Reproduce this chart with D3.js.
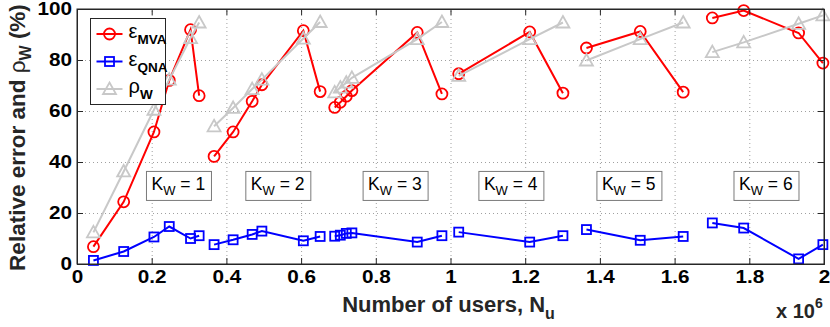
<!DOCTYPE html>
<html>
<head>
<meta charset="utf-8">
<script src="https://cdn.jsdelivr.net/npm/d3@7"></script>
<style>
  html, body { margin: 0; padding: 0; background: #fff; }
  svg { display: block; font-family: "Liberation Sans", Arial, Helvetica, sans-serif; }
</style>
</head>
<body>
<svg id="chart" width="830" height="327"></svg>
<script>
// ---- data (x in millions of users) ----
const groupIds   = [1, 2, 3, 4, 5, 6];
const usersM = [
  [0.044, 0.125, 0.206, 0.247, 0.304, 0.327],
  [0.367, 0.418, 0.469, 0.495, 0.606, 0.651],
  [0.690, 0.705, 0.721, 0.736, 0.911, 0.977],
  [1.022, 1.212, 1.301],
  [1.364, 1.508, 1.623],
  [1.701, 1.785, 1.932, 1.997]
];
const epsMVA = [
  [6.8, 24.4, 51.8, 72.0, 91.9, 66.0],
  [42.2, 51.8, 63.8, 70.3, 91.5, 67.6],
  [61.4, 63.4, 65.8, 68.0, 90.8, 66.7],
  [74.6, 91.0, 67.0],
  [84.7, 91.2, 67.4],
  [96.5, 99.4, 90.6, 78.8]
];
const epsQNA = [
  [1.4, 4.9, 10.6, 14.7, 10.0, 11.1],
  [7.6, 9.5, 11.6, 12.9, 9.1, 10.8],
  [10.9, 11.3, 12.0, 12.2, 8.6, 11.1],
  [12.5, 8.6, 11.1],
  [13.5, 9.3, 10.8],
  [16.1, 14.1, 2.0, 7.6]
];
const rhoW = [
  [12.4, 36.3, 60.5, 72.3, 88.6, 94.7],
  [54.0, 61.2, 68.6, 72.3, 88.4, 94.9],
  [67.3, 69.2, 71.1, 73.0, 88.2, 94.9],
  [73.8, 88.2, 94.7],
  [79.8, 88.2, 94.7],
  [83.1, 86.9, 94.2, 97.5]
];
const kwLabelX = [0.186, 0.452, 0.766, 1.076, 1.392, 1.759]; // left edge of each K_W box (x 10^6)
const kwLabelY = 36.3;                                       // top edge of boxes (%)
const xTicks = [0, 0.2, 0.4, 0.6, 0.8, 1, 1.2, 1.4, 1.6, 1.8, 2];
const yTicks = [0, 20, 40, 60, 80, 100];

// ---- layout ----
const W = 830, H = 327;
const m = { left: 77, top: 9, right: 6, bottom: 63 };
const iw = W - m.left - m.right, ih = H - m.top - m.bottom;

const svg = d3.select("#chart");
const g = svg.append("g").attr("transform", `translate(${m.left},${m.top})`);

const x = d3.scaleLinear().domain([0, 2]).range([0, iw]);
const y = d3.scaleLinear().domain([0, 100]).range([ih, 0]);

const tickFont = "bold 18px 'Liberation Sans', Arial, sans-serif";
const tickStretch = 1.15;

// grid
g.append("g").attr("transform", `translate(0,${ih})`)
  .call(d3.axisBottom(x).tickValues(xTicks.slice(1, -1)).tickSize(-ih).tickFormat(""))
  .call(a => a.select(".domain").remove())
  .call(a => a.selectAll("line").attr("stroke", "#a0a0a0").attr("stroke-dasharray", "1,3"));
g.append("g")
  .call(d3.axisLeft(y).tickValues(yTicks.slice(1, -1)).tickSize(-iw).tickFormat(""))
  .call(a => a.select(".domain").remove())
  .call(a => a.selectAll("line").attr("stroke", "#a0a0a0").attr("stroke-dasharray", "1,3"));

// K_W boxes
const kwBoxW = 65, kwBoxH = 29;
groupIds.forEach((k, i) => {
  const bx = x(kwLabelX[i]), by = y(kwLabelY);
  const kg = g.append("g").attr("transform", `translate(${bx},${by})`);
  kg.append("rect").attr("width", kwBoxW).attr("height", kwBoxH)
    .attr("fill", "#fff").attr("stroke", "#7a7a7a").attr("stroke-width", 1);
  const t = kg.append("text").attr("x", 5).attr("y", 19)
    .attr("font-size", 17.5).attr("fill", "#000");
  t.append("tspan").text("K");
  t.append("tspan").attr("dy", 5).attr("font-size", 13).text("W");
  t.append("tspan").attr("dy", -5).text(" = " + k);
});

// series
const line = d3.line().x(d => x(d[0])).y(d => y(d[1]));
const series = [
  { name: "MVA", values: epsMVA, color: "#ff0000", marker: "circle" },
  { name: "QNA", values: epsQNA, color: "#0000ff", marker: "square" },
  { name: "rho", values: rhoW,   color: "#c8c8c8", marker: "triangle" }
];
function drawMarker(sel, type, color) {
  if (type === "circle") {
    sel.append("circle").attr("r", 5.5);
  } else if (type === "square") {
    sel.append("rect").attr("x", -4.5).attr("y", -4.5).attr("width", 9).attr("height", 9);
  } else {
    sel.append("path").attr("d", "M0,-6.5L6.5,5L-6.5,5Z");
  }
  sel.selectAll("circle,rect,path").attr("fill", "none").attr("stroke", color).attr("stroke-width", 1.8);
}
series.forEach(s => {
  const sg = g.append("g");
  s.values.forEach((vals, gi) => {
    const pts = vals.map((v, j) => [usersM[gi][j], v]);
    sg.append("path").attr("d", line(pts)).attr("fill", "none")
      .attr("stroke", s.color).attr("stroke-width", 2);
    pts.forEach(p => {
      const mg = sg.append("g").attr("transform", `translate(${x(p[0])},${y(p[1])})`);
      drawMarker(mg, s.marker, s.color);
    });
  });
});

// frame + axes
g.append("rect").attr("width", iw).attr("height", ih).attr("fill", "none").attr("stroke", "#262626").attr("stroke-width", 1);

const xAx = g.append("g").attr("transform", `translate(0,${ih})`)
  .call(d3.axisBottom(x).tickValues(xTicks).tickSize(-6).tickPadding(6).tickFormat(d3.format("~g")));
const yAx = g.append("g")
  .call(d3.axisLeft(y).tickValues(yTicks).tickSize(-6).tickPadding(5));
g.append("g").call(d3.axisTop(x).tickValues(xTicks).tickSize(-6).tickFormat(""));
g.append("g").attr("transform", `translate(${iw},0)`).call(d3.axisRight(y).tickValues(yTicks).tickSize(-6).tickFormat(""));
g.selectAll(".domain").attr("stroke", "#262626");
g.selectAll(".tick line").filter(function() { return !this.getAttribute("stroke-dasharray"); }).attr("stroke", "#262626");
[xAx, yAx].forEach(a => a.selectAll("text").each(function() {
  const t = d3.select(this);
  const tx = +t.attr("x") || 0;
  t.attr("x", 0).attr("transform", `translate(${tx},0) scale(${tickStretch},1)`)
    .style("font", tickFont).attr("fill", "#000");
}));

// axis labels
const xl = svg.append("text").attr("x", m.left + iw / 2 - 2).attr("y", 312)
  .attr("text-anchor", "middle").attr("font-size", 22).attr("font-weight", "bold").attr("fill", "#262626");
xl.append("tspan").text("Number of users, N");
xl.append("tspan").attr("dy", 7).attr("font-size", 16).text("u");

const xs = svg.append("text").attr("x", 776).attr("y", 318)
  .attr("font-size", 20).attr("font-weight", "bold").attr("fill", "#262626");
xs.append("tspan").text("x 10");
xs.append("tspan").attr("dy", -10).attr("font-size", 14).text("6");

const yl = svg.append("text").attr("transform", `translate(25,${m.top + ih / 2 + 1}) rotate(-90)`)
  .attr("text-anchor", "middle").attr("font-size", 22.5).attr("font-weight", "bold").attr("fill", "#262626");
yl.append("tspan").text("Relative error and ");
yl.append("tspan").attr("font-weight", "normal").text("ρ");
yl.append("tspan").attr("dy", 6).attr("font-size", 16).text("W");
yl.append("tspan").attr("dy", -6).text(" (%)");

// legend
const lg = svg.append("g").attr("transform", "translate(90.5,18.5)");
lg.append("rect").attr("width", 75).attr("height", 86).attr("fill", "#fff").attr("stroke", "#262626").attr("stroke-width", 1);
const legNames = ["MVA", "QNA", "W"];
const legSym = ["ε", "ε", "ρ"];
series.forEach((s, i) => {
  const ry = 15.5 + i * 27.5;
  lg.append("line").attr("x1", 6).attr("x2", 32).attr("y1", ry).attr("y2", ry)
    .attr("stroke", s.color).attr("stroke-width", 2);
  const mg = lg.append("g").attr("transform", `translate(19,${ry})`);
  drawMarker(mg, s.marker, s.color);
  const t = lg.append("text").attr("x", 38).attr("y", ry + 4).attr("font-size", 20).attr("fill", "#000");
  t.append("tspan").text(legSym[i]);
  t.append("tspan").attr("dy", 6).attr("font-size", 13.5).attr("font-weight", "bold").text(legNames[i]);
});
</script>
</body>
</html>
